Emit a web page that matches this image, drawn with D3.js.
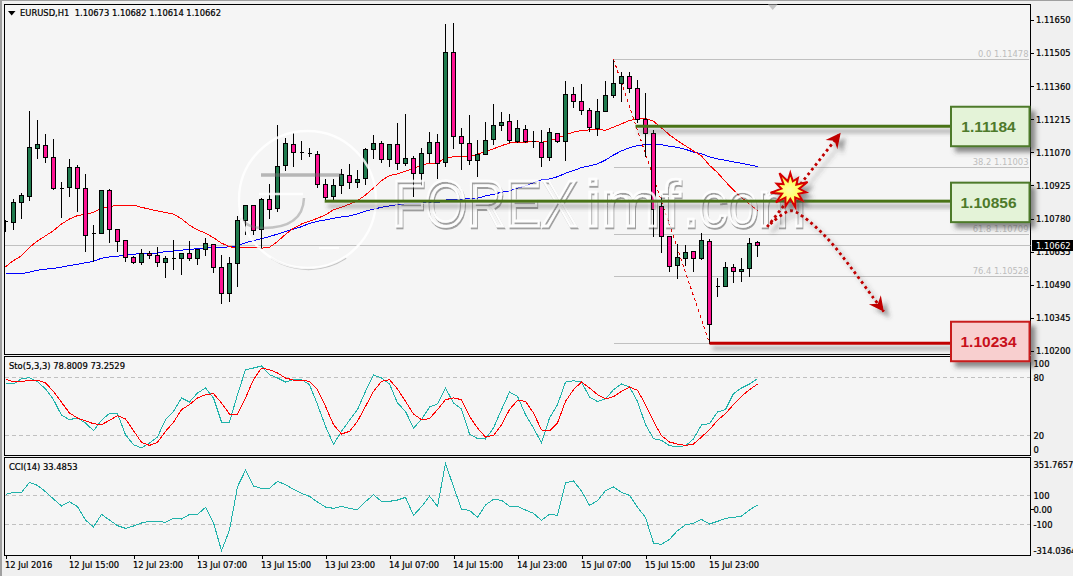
<!DOCTYPE html>
<html>
<head>
<meta charset="utf-8">
<title>EURUSD H1</title>
<script src="https://cdn.jsdelivr.net/npm/d3@7"></script>
<style>
  html, body { margin: 0; padding: 0; background: #fff; overflow: hidden; }
  svg { display: block; }
  text { font-family: "DejaVu Sans", sans-serif; font-stretch: condensed; font-size: 9.3px; fill: #000; }
  .ink text, text.ink { stroke: #000; stroke-width: 0.22px; }
  .crisp { shape-rendering: crispEdges; }
</style>
</head>
<body>
<script>
// EURUSD hourly candles, quotes in 1/100000 of a dollar
const opens = [
  110765,110764,110851,110876,111086,111101,111048,110913,110917,111005,
  110913,110714,110716,110904,110731,110683,110610,110589,110626,110617,
  110589,110606,110606,110628,110606,110646,110666,110567,110453,110584,
  110772,110838,110733,110864,110823,111010,111105,111068,111063,111061,
  110930,110878,110926,110969,110939,110956,111083,111110,111040,111105,
  111022,111044,110978,111066,111114,111025,111508,111140,111110,111035,
  111061,111127,111188,111206,111118,111171,111117,111114,111048,111153,
  111118,111324,111293,111254,111175,111250,111320,111372,111403,111350,
  111215,111153,110834,110702,110575,110606,110637,110606,110681,110484,
  110484,110567,110549,110562,110673];
const highs = [
  110774,110866,110892,111251,111212,111153,111132,110940,111044,111015,
  110975,110755,110905,110910,110733,110685,110616,110650,110638,110659,
  110619,110689,110632,110682,110647,110698,110666,110624,110615,110794,
  110839,110843,110873,110934,111190,111136,111158,111120,111093,111076,
  110956,110956,111000,111022,110993,111089,111149,111120,111105,111202,
  111241,111054,111093,111163,111153,111635,111639,111180,111237,111127,
  111203,111285,111250,111238,111212,111190,111165,111171,111180,111155,
  111385,111356,111369,111267,111307,111385,111478,111425,111425,111390,
  111333,111171,110886,110704,110672,110667,110642,110720,110694,110523,
  110594,110584,110610,110698,110682];
const lows = [
  110721,110734,110778,110861,111041,111025,110908,110784,110876,110809,
  110635,110594,110713,110674,110635,110591,110581,110577,110604,110572,
  110521,110556,110534,110596,110578,110617,110543,110407,110416,110482,
  110708,110708,110650,110781,110809,110990,111007,111038,111051,110915,
  110854,110858,110891,110910,110915,110927,111041,111025,111007,110993,
  111012,110876,110924,111026,110956,111007,111085,110993,111018,110963,
  111061,111103,111165,111112,111112,111114,111092,111007,111036,111111,
  111032,111265,111235,111159,111142,111250,111311,111292,111331,111202,
  111051,110701,110631,110547,110517,110575,110547,110600,110234,110440,
  110484,110501,110505,110527,110614];
const closes = [
  110765,110851,110879,111089,111102,111048,110913,110913,111005,110913,
  110707,110714,110902,110733,110681,110610,110589,110628,110617,110589,
  110606,110606,110628,110606,110646,110670,110567,110453,110584,110771,
  110838,110729,110864,110821,111009,111110,111068,111068,111063,110930,
  110871,110926,110974,110939,110952,111083,111110,111040,111105,111022,
  111044,110978,111066,111114,111022,111508,111140,111108,111035,111061,
  111123,111188,111202,111123,111175,111118,111117,111048,111158,111118,
  111324,111293,111254,111180,111250,111320,111372,111403,111350,111215,
  111153,110821,110702,110571,110610,110632,110606,110685,110317,110484,
  110567,110549,110558,110672,110662];

// Fast (red) and slow (blue) moving averages
const maFast = [
  110569,110596,110617,110654,110682,110704,110727,110756,110778,110793,
  110799,110807,110825,110832,110839,110839,110839,110829,110821,110813,
  110806,110799,110779,110751,110730,110716,110696,110672,110657,110650,
  110653,110654,110650,110654,110679,110711,110737,110756,110768,110781,
  110796,110818,110829,110843,110858,110883,110913,110946,110968,110975,
  110987,110998,111015,111022,111023,111047,111050,111050,111050,111061,
  111073,111085,111099,111110,111115,111114,111117,111114,111120,111132,
  111146,111158,111165,111168,111171,111166,111180,111194,111210,111215,
  111217,111206,111177,111146,111121,111098,111076,111054,111013,110981,
  110941,110905,110871,110844,110815];
const maSlow = [
  110539,110539,110539,110545,110554,110558,110562,110567,110574,110580,
  110586,110593,110606,110612,110615,110619,110624,110626,110628,110629,
  110635,110638,110641,110646,110647,110651,110653,110654,110656,110661,
  110674,110683,110692,110701,110712,110723,110734,110744,110759,110768,
  110774,110781,110787,110791,110800,110812,110821,110829,110835,110841,
  110844,110847,110848,110848,110848,110861,110864,110864,110867,110869,
  110879,110886,110895,110901,110913,110923,110937,110949,110953,110963,
  110978,110990,111003,111010,111019,111036,111058,111076,111090,111099,
  111103,111105,111103,111096,111092,111083,111071,111064,111050,111041,
  111035,111028,111022,111015,111007];

// Stochastic(5,3,3)
const stoMain = [
  73.4,73.4,78.9,80,75.8,68.2,57.1,40.8,36.3,38,
  32.8,24.8,35.6,42.8,42.5,20.6,10.2,6.8,12,18.2,
  36.3,44.9,58.8,54.6,64,69.2,58.8,33.8,33.8,62.3,
  88.3,90,92.1,83.1,79.6,75.4,77.9,77.9,72.7,51.9,
  29.3,10.6,24.1,35.6,46.7,65.7,82.7,79.6,73.4,53.6,
  44.9,27.6,36.3,49.4,52.6,69.2,53.6,47.3,21.3,16.5,
  16.1,27.6,46.7,65,60.5,41.5,27.6,12,38,51.9,
  75.4,76.8,75.4,59.8,55,57.8,67.5,73.4,70.2,55.3,
  31,16.5,14.7,9.2,7.8,9.2,16.1,30.7,32.1,44.2,
  46.7,63.3,69.2,73.4,78.8];
const stoSignal = [
  78.6,75.5,75.5,77.5,77.5,74.4,65.7,54.3,43.2,38,
  34.9,32.1,31,35.6,40.4,37,24.8,12.7,9.5,12.7,
  24.1,33.5,46.7,51.9,58.8,62.3,63.3,53.6,42.1,42.1,
  58.8,77.9,90,88.3,84.8,79.6,77.5,77.2,76.1,67.5,
  50.1,31,21.3,24.1,34.5,50.1,65.7,76.1,77.9,68.2,
  55.3,42.1,36.3,37.3,46.7,57.1,58.8,57.1,39.7,27.6,
  18.2,19.9,31,46.7,56.4,55.3,43.2,25.5,24.5,32.8,
  55.3,67.5,75.5,69.2,62.3,57.8,60.2,65.7,70.2,66.8,
  51.9,34.5,19.6,13,10.9,9.5,10.9,18.2,25.8,35.6,
  42.5,51.9,60.5,67.5,73.3];

// Commodity channel index (14)
const cci = [
  106.5,120.3,120.3,189.3,168.6,124.9,74.3,26.1,56,21.5,
  -70.5,-118.8,-31.4,-70.5,-109.6,-128,-111.9,-91.2,-79.7,-79.7,
  -86.6,-59,-63.6,-31.4,-31.4,16.9,-88.9,-282,-139.5,159.4,
  272.1,164,147.9,147.9,196.2,173.2,141,113.4,92.7,53.7,
  19.2,10,23.8,10,0.8,56,104.2,58.3,58.3,67.5,
  85.8,-38.3,21.5,95,23.8,320.3,159.4,5.4,-3.8,-52.1,
  33,72,65.2,23.8,23.8,-1.5,-24.5,-72.8,-31.4,-38.3,
  187,198.5,129.5,30.7,62.9,131.8,157.1,120.3,99.6,16.9,
  -52.1,-229.1,-238.3,-203.8,-144,-102.7,-93.5,-65.9,-98.1,-79.7,
  -59,-52.1,-42.9,-1.5,33.5];

// Axis labels
const priceTicks = [111650,111505,111360,111215,111070,110925,110780,110635,110490,110345,110200];
const stoTicks = [100,80,20,0];
const stoLevels = [80,20];
const cciTicks = [351.7657,100,0,-100,-314.0364];
const cciLevels = [100,-100];
const timeTickBars = [0,8,16,24,32,40,48,56,64,72,80,88];
const timeTickLabels = ["12 Jul 2016","12 Jul 15:00","12 Jul 23:00","13 Jul 07:00","13 Jul 15:00","13 Jul 23:00",
                        "14 Jul 07:00","14 Jul 15:00","14 Jul 23:00","15 Jul 07:00","15 Jul 15:00","15 Jul 23:00"];

// Fibonacci retracement of the swing from bar 76 to bar 88
const fibLabels = ["0.0","38.2","61.8","76.4"];
const fibPrices = [111478,111003,110709,110528];
const fibStart = {bar: 76, price: 111478};
const fibEnd = {bar: 88, price: 110234};
const lastClose = 110662;

// Marked levels: price, first bar of the line, and colour family
const levelPrices = [111184,110856,110234];
const levelBars = [78.75,39.9,88];
const levelKinds = ["up","up","down"];

// Scenario arrows in bar / price coordinates
const arrowUp = [[95.2,110743],[104.4,111155]];
const arrowDown = [[95.6,110756],[98.1,110814],[99.7,110788],[102.7,110694],[105.6,110569],[108.5,110432],[109.8,110372]];
const burstCentre = [98.1,110905];
const burstOuter = [17,14,19,16,16,18,17,19,20,15,20];
const burstInner = [9,8,9,9,9,9,9,9,9,9,9];

const W = 1075, H = 578;
const L = 4.5, R = 1030.5;
const fmtPrice = v => (v / 1e5).toFixed(5);

const svg = d3.select("body").append("svg").attr("width", W).attr("height", H);
const defs = svg.append("defs");

function dropShadow(id, dx, dy, sd, op) {
  const f = defs.append("filter").attr("id", id)
    .attr("x", "-30%").attr("y", "-300%").attr("width", "170%").attr("height", "700%");
  f.append("feDropShadow").attr("dx", dx).attr("dy", dy).attr("stdDeviation", sd)
    .attr("flood-color", "#404040").attr("flood-opacity", op);
}
dropShadow("lineShadow", 3, 5, 2, 0.5);
dropShadow("boxShadow", 5, 5, 2.5, 0.6);
dropShadow("arrowShadow", 5, 5, 2.2, 0.5);
dropShadow("markShadow", 1, 2, 0.7, 0.55);
defs.append("filter").attr("id", "soft").append("feGaussianBlur").attr("stdDeviation", 0.7);
defs.append("clipPath").attr("id", "mainClip").append("rect")
  .attr("x", L).attr("y", 4.5).attr("width", R - L).attr("height", 350);
defs.append("clipPath").attr("id", "frameClip").append("rect")
  .attr("x", 0).attr("y", 0).attr("width", 1073).attr("height", 576);
const burstFill = defs.append("radialGradient").attr("id", "burstFill");
burstFill.append("stop").attr("offset", "0%").attr("stop-color", "#ffffa0");
burstFill.append("stop").attr("offset", "100%").attr("stop-color", "#ffff33");

// Window chrome and the three panes
const frame = svg.append("g").attr("clip-path", "url(#frameClip)");
frame.append("rect").attr("width", W).attr("height", H).attr("fill", "#f0f0f0");
frame.append("rect").attr("width", 2).attr("height", H).attr("fill", "#a0a0a0");
frame.append("rect").attr("width", W).attr("height", 1).attr("fill", "#a0a0a0");

const panes = [
  {y0: 4.5, y1: 354.5},
  {y0: 356.5, y1: 455.5},
  {y0: 457.5, y1: 555.5}
];
frame.selectAll("rect.pane").data(panes).join("rect").attr("class", "pane crisp")
  .attr("x", L).attr("y", d => d.y0).attr("width", R - L).attr("height", d => d.y1 - d.y0)
  .attr("fill", "#f5f5f5").attr("stroke", "#000");

// Scales
const x = d3.scaleLinear().domain([0, 94]).range([5.5, 757.5]);
const y = d3.scaleLinear().domain([110200, 111650]).range([351, 19.8]);
const yS = d3.scaleLinear().domain([0, 100]).range([454.5, 358.4]);
const yC = d3.scaleLinear().domain([-100, 100]).range([524.3, 495.3]);
const px = v => Math.round(v - 0.5) + 0.5;

const main = frame.append("g").attr("clip-path", "url(#mainClip)");

// Last price and Fibonacci levels
main.append("line").attr("class", "crisp")
  .attr("x1", L).attr("x2", R).attr("y1", px(y(lastClose))).attr("y2", px(y(lastClose)))
  .attr("stroke", "#c0c0c0");
main.selectAll("line.fib").data(fibPrices).join("line").attr("class", "fib crisp")
  .attr("x1", x(fibStart.bar)).attr("x2", 1029)
  .attr("y1", d => px(y(d))).attr("y2", d => px(y(d))).attr("stroke", "#c0c0c0");
main.append("line").attr("class", "crisp")
  .attr("x1", x(fibStart.bar)).attr("x2", 1029)
  .attr("y1", px(y(fibEnd.price))).attr("y2", px(y(fibEnd.price))).attr("stroke", "#c0c0c0");
main.selectAll("text.fibLabel").data(fibPrices).join("text").attr("class", "fibLabel")
  .attr("x", 1028.5).attr("y", d => y(d) - 2.5).attr("text-anchor", "end")
  .style("fill", "#bdbdbd")
  .text((d, i) => fibLabels[i] + "  " + fmtPrice(d));

// Moving averages
const priceLine = d3.line().x((d, i) => x(i)).y(d => y(d));
main.append("path").attr("class", "crisp").attr("d", priceLine(maSlow)).attr("fill", "none").attr("stroke", "#0000ff");
main.append("path").attr("class", "crisp").attr("d", priceLine(maFast)).attr("fill", "none").attr("stroke", "#ff0000");

// Fibonacci trend line
main.append("line").attr("class", "crisp")
  .attr("x1", x(fibStart.bar)).attr("y1", y(fibStart.price))
  .attr("x2", x(fibEnd.bar)).attr("y2", y(fibEnd.price))
  .attr("stroke", "#e60000").attr("stroke-dasharray", "3 3");

// Candles
const bars = d3.range(opens.length);
const candle = main.append("g").selectAll("g").data(bars).join("g").attr("class", "crisp");
candle.append("line")
  .attr("x1", i => x(i)).attr("x2", i => x(i))
  .attr("y1", i => px(y(highs[i]))).attr("y2", i => px(y(lows[i])) + 0.5)
  .attr("stroke", "#000");
candle.append("path")
  .attr("d", i => {
    const top = px(y(Math.max(opens[i], closes[i])));
    const bottom = px(y(Math.min(opens[i], closes[i])));
    const p = d3.path();
    p.moveTo(x(i) - 2, top);
    p.lineTo(x(i) + 2, top);
    p.lineTo(x(i) + 2, bottom);
    p.lineTo(x(i) - 2, bottom);
    p.closePath();
    return p.toString();
  })
  .attr("fill", i => closes[i] >= opens[i] ? "#1f7a4d" : "#ff1493")
  .attr("stroke", "#000");

// Site watermark laid over the price pane
const markWords = [
  {t: "FOREX", x0: 392, len: 185},
  {t: "imf", x0: 585, len: 95},
  {t: ".com", x0: 683, len: 122}
];
const markShade = main.append("g").attr("transform", "translate(1,2)")
  .attr("filter", "url(#soft)").attr("fill", "none");
markShade.append("path").attr("d", "M260 173H340").attr("stroke", "#777").attr("stroke-width", 3.5).attr("opacity", 0.5);
markShade.append("path").attr("d", "M303 196Q302 226 262 226Q246 226 240 216").attr("stroke", "#777").attr("stroke-width", 2.5).attr("opacity", 0.4);
markShade.append("path").attr("d", "M270 256A68.5 68.5 0 0 0 345 256").attr("stroke", "#777").attr("stroke-width", 2).attr("opacity", 0.4);
const markLight = main.append("g").attr("fill", "none").attr("stroke", "#fff").attr("stroke-width", 2.4).attr("opacity", 0.85);
markLight.append("circle").attr("cx", 307.5).attr("cy", 199.5).attr("r", 68.5);
markLight.append("path").attr("d", "M259 194H303");
markLight.append("path").attr("d", "M319 248H339");
main.append("g").attr("opacity", 0.85).attr("filter", "url(#markShadow)")
  .selectAll("text").data(markWords).join("text")
  .attr("x", d => d.x0).attr("y", 226)
  .attr("textLength", d => d.len).attr("lengthAdjust", "spacingAndGlyphs")
  .style("font-family", '"Liberation Sans", sans-serif')
  .style("font-stretch", "normal")
  .style("font-size", "64px")
  .style("fill", "none").style("stroke", "#fff").style("stroke-width", "2.4px")
  .text(d => d.t);

// Marked level lines
const levelColour = {up: "#4a7318", down: "#c00000"};
frame.selectAll("rect.level").data(levelPrices).join("rect").attr("class", "level")
  .attr("x", (d, i) => x(levelBars[i])).attr("width", (d, i) => 951 - x(levelBars[i]))
  .attr("y", d => y(d) - 1.5).attr("height", 3)
  .attr("fill", (d, i) => levelColour[levelKinds[i]])
  .attr("filter", "url(#lineShadow)");

// Scenario arrows
function arrowHead(g, pts) {
  const a = pts[pts.length - 2], b = pts[pts.length - 1];
  const angle = Math.atan2(y(b[1]) - y(a[1]), x(b[0]) - x(a[0])) * 180 / Math.PI;
  g.append("path")
    .attr("transform", `translate(${x(b[0])},${y(b[1])}) rotate(${angle})`)
    .attr("d", "M0 0L-15 -7.5L-10 0L-15 7.5Z")
    .attr("fill", "#c00000");
}
const arrows = frame.append("g").attr("filter", "url(#arrowShadow)");
const arrowLine = d3.line().x(d => x(d[0])).y(d => y(d[1])).curve(d3.curveCatmullRom);
[arrowUp, arrowDown].forEach(pts => {
  arrows.append("path").attr("d", arrowLine(pts)).attr("fill", "none")
    .attr("stroke", "#c00000").attr("stroke-width", 2.8).attr("stroke-dasharray", "2.8 3.2");
  arrowHead(arrows, pts);
});

// Breakout burst
const burstPoints = burstOuter.flatMap((r, i) => {
  const step = 2 * Math.PI / burstOuter.length;
  return [[i * step, r], [(i + 0.5) * step, burstInner[i]]];
});
frame.append("path")
  .attr("transform", `translate(${x(burstCentre[0])},${y(burstCentre[1])})`)
  .attr("d", d3.lineRadial().curve(d3.curveLinearClosed)(burstPoints))
  .attr("fill", "url(#burstFill)").attr("stroke", "#d60000").attr("stroke-width", 2)
  .attr("stroke-linejoin", "miter").attr("filter", "url(#arrowShadow)");

// Level labels
const boxStyle = {
  up: {fill: "#e4f3d8", stroke: "#4e7a2b", text: "#4e7a2b"},
  down: {fill: "#f8cfcf", stroke: "#c81e1e", text: "#c8101a"}
};
const boxNudge = [0, 1, -2];
const boxes = frame.selectAll("g.box").data(levelPrices).join("g").attr("class", "box")
  .attr("transform", (d, i) => `translate(951,${y(d) + boxNudge[i] - 19.5})`);
boxes.append("rect").attr("width", 78.5).attr("height", 39.5)
  .attr("fill", (d, i) => boxStyle[levelKinds[i]].fill)
  .attr("stroke", (d, i) => boxStyle[levelKinds[i]].stroke)
  .attr("stroke-width", 2).attr("filter", "url(#boxShadow)");
boxes.append("text").attr("x", 37.5).attr("y", 25.3).attr("text-anchor", "middle")
  .style("font-family", '"Liberation Sans", sans-serif')
  .style("font-stretch", "normal")
  .style("font-size", "15.5px").style("font-weight", "bold")
  .style("fill", (d, i) => boxStyle[levelKinds[i]].text)
  .text(d => fmtPrice(d));

// Oscillator levels
const levelGrid = (ys) => frame.append("g").selectAll("line").data(ys).join("line").attr("class", "crisp")
  .attr("x1", L + 0.5).attr("x2", R - 0.5).attr("y1", d => px(d)).attr("y2", d => px(d))
  .attr("stroke", "#c0c0c0").attr("stroke-dasharray", "4 3");
levelGrid(stoLevels.map(yS));
levelGrid(cciLevels.map(yC));

// Oscillator lines
const stoLine = d3.line().x((d, i) => x(i)).y(d => yS(d));
const cciLine = d3.line().x((d, i) => x(i)).y(d => yC(d));
frame.append("path").attr("class", "crisp").attr("d", stoLine(stoMain)).attr("fill", "none").attr("stroke", "#20b2aa");
frame.append("path").attr("class", "crisp").attr("d", stoLine(stoSignal)).attr("fill", "none").attr("stroke", "#ff0000");
frame.append("path").attr("class", "crisp").attr("d", cciLine(cci)).attr("fill", "none").attr("stroke", "#20b2aa");

// Price axis
const priceAxis = frame.append("g").attr("class", "ink").attr("transform", `translate(${R},0)`)
  .call(d3.axisRight(y).tickValues(priceTicks).tickSize(3).tickPadding(3).tickFormat(fmtPrice));
priceAxis.select(".domain").remove();
priceAxis.selectAll("text").attr("x", 5.5);

// Stochastic axis; the two extremes sit inside the pane
const stoAxis = frame.append("g").attr("class", "ink").attr("transform", `translate(${R},0)`)
  .call(d3.axisRight(yS).tickValues(stoTicks).tickSize(0).tickPadding(3).tickFormat(d => d));
stoAxis.select(".domain").remove();
stoAxis.selectAll(".tick text").attr("dy", d => d === 100 ? "0.85em" : d === 0 ? "-0.25em" : "0.32em");

// CCI axis; the scale limits are pulled in from the pane edges
const cciAxis = frame.append("g").attr("class", "ink").attr("transform", `translate(${R},0)`)
  .call(d3.axisRight(yC).tickValues(cciTicks).tickSize(0).tickPadding(3)
    .tickFormat(d => d === 0 ? "0.00" : (Number.isInteger(d) ? d : d.toFixed(4))));
cciAxis.select(".domain").remove();
cciAxis.selectAll(".tick text").attr("dy", d => d > 300 ? "0.9em" : d < -300 ? "-0.2em" : "0.32em");
frame.append("g").selectAll("line").data([yC(0)]).join("line").attr("class", "crisp")
  .attr("x1", R).attr("x2", R + 3).attr("y1", d => px(d)).attr("y2", d => px(d)).attr("stroke", "#000");

// Time axis
const timeAxis = frame.append("g").attr("class", "ink").attr("transform", "translate(0,555.5)")
  .call(d3.axisBottom(x).tickValues(timeTickBars).tickSize(3).tickPadding(2.5)
    .tickFormat((d, i) => timeTickLabels[i]));
timeAxis.select(".domain").remove();
timeAxis.selectAll("text").attr("text-anchor", "start").attr("x", -1);
[priceAxis, stoAxis, cciAxis, timeAxis].forEach(a => {
  a.attr("font-family", null).attr("font-size", null);
  a.selectAll("line").attr("class", "crisp");
});

// Current price tag
frame.append("rect").attr("x", 1032).attr("y", px(y(lastClose)) - 5.5).attr("width", 41).attr("height", 11).attr("fill", "#000");
frame.append("text").attr("x", 1036).attr("y", y(lastClose)).attr("dy", "0.36em")
  .style("fill", "#fff").text(fmtPrice(lastClose));

// Pane captions
frame.append("path").attr("d", "M8 11H15.5L11.7 15.5Z").attr("fill", "#000");
frame.append("path").attr("d", "M768 4.5H777.5L772.7 10Z").attr("fill", "#c4c4c4");
frame.append("text").attr("class", "ink").attr("x", 20).attr("y", 16)
  .style("white-space", "pre")
  .text("EURUSD,H1  " + [opens[94], highs[94], lows[94], closes[94]].map(fmtPrice).join(" "));
frame.append("text").attr("class", "ink").attr("x", 9).attr("y", 369)
  .text(`Sto(5,3,3) ${78.8009.toFixed(4)} ${73.2529.toFixed(4)}`);
frame.append("text").attr("class", "ink").attr("x", 9).attr("y", 470)
  .text(`CCI(14) ${33.4853.toFixed(4)}`);
</script>
</body>
</html>
